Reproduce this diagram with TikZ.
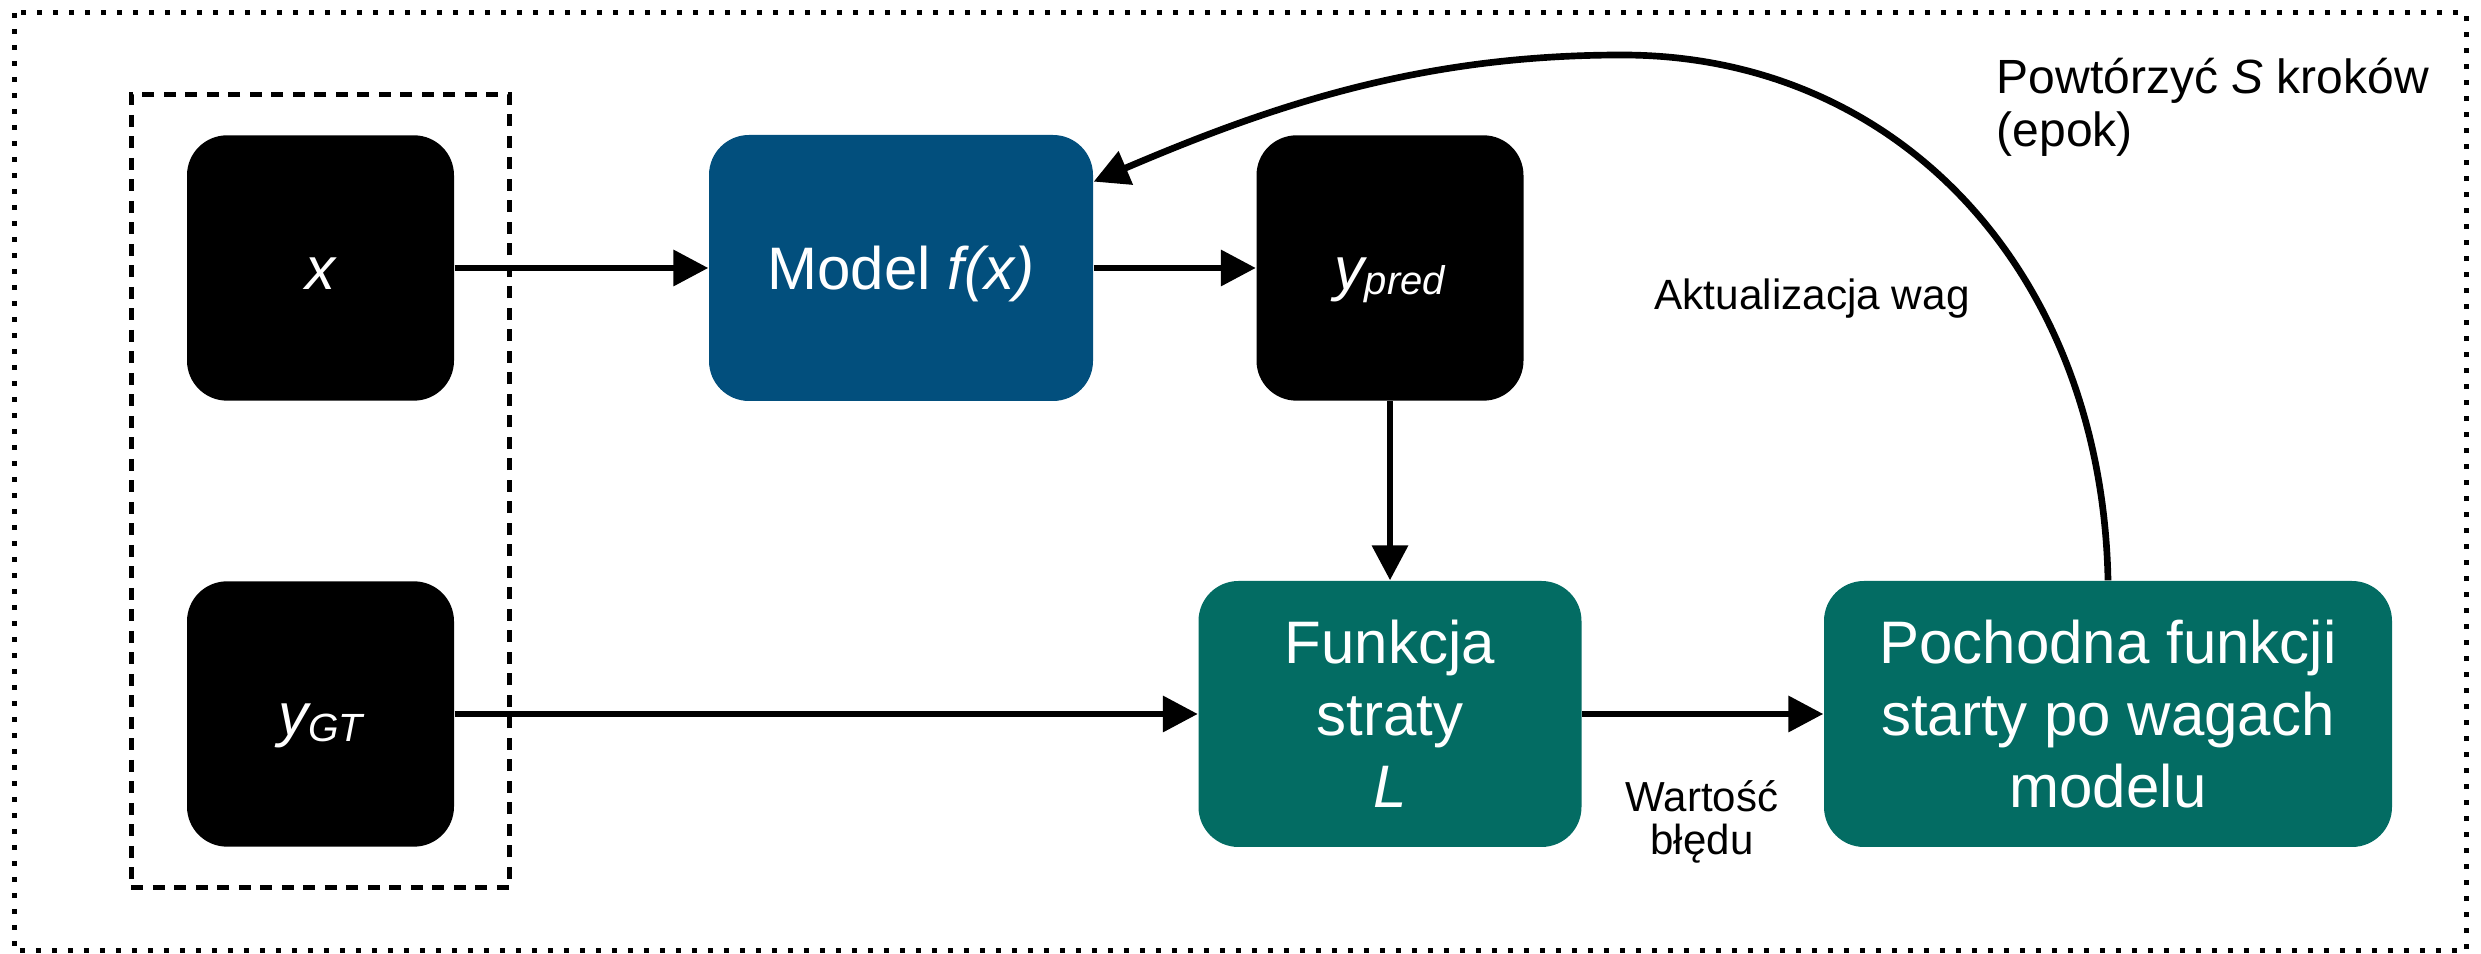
\documentclass[tikz,border=0pt]{standalone}
\usepackage{fontspec}
\setmainfont{Liberation Sans}
\usetikzlibrary{arrows.meta,calc,fit}
\definecolor{modelblue}{RGB}{2,79,125}
\definecolor{lossteal}{RGB}{3,108,99}
\begin{document}
\begin{tikzpicture}[x=0.3pt,y=-0.3pt,
  box/.style={rounded corners=12pt, inner sep=0pt, text=white,
    font=\fontsize{18pt}{21.6pt}\selectfont, align=center},
  oneline/.style={text height=13.2pt, text depth=0pt},
  threelines/.style={text height=56.4pt, text depth=0pt},
  databox/.style={box, fill=black, minimum width=80.1pt, minimum height=79.6pt},
  tealbox/.style={box, threelines, fill=lossteal, minimum height=79.8pt},
  label/.style={inner sep=0pt, text=black},
  arr/.style={line width=2pt, -{Triangle[length=10.5pt,width=10.5pt]}},
  groupdash/.style={draw, line width=1.5pt, dash pattern=on 3.6pt off 2.85pt},
  dotframe/.style={line width=1.5pt, dash pattern=on 1.5pt off 3.3pt},
]
\useasboundingbox (0,0) rectangle (2481,954);

% outer frame
\draw[dotframe] (14,13) rectangle (2466,951);

% inputs and prediction
\node[databox, oneline] (xin) at (320.5,268) {\itshape x};
\node[databox, oneline] (ygt) at (320.5,714)
  {\itshape y\raisebox{-1.7pt}{\fontsize{11.8pt}{12pt}\selectfont GT}};
\node[box, oneline, fill=modelblue, minimum width=115.2pt, minimum height=79.8pt]
  (model) at (901,268) {Model \textit{f(x)}};
\node[databox, oneline] (ypred) at (1390,268)
  {\itshape y\raisebox{-1.5pt}{\fontsize{12pt}{12pt}\selectfont pred}};

% loss and gradient
\node[tealbox, minimum width=114.9pt] (loss) at (1390,714)
  {Funkcja\\straty\\\textit{L}};
\node[tealbox, minimum width=170.4pt] (grad) at (2108,714)
  {Pochodna funkcji\\starty po wagach\\modelu};

% dataset group
\node[groupdash, fit=(xin)(ygt), inner xsep=16.5pt, inner ysep=12pt] (inputs) {};

% data flow
\draw[arr] (xin.east) -- (model.west);
\draw[arr] (model.east) -- (ypred.west);
\draw[arr] (ypred.south) -- (loss.north);
\draw[arr] (ygt.east) -- (loss.west);
\draw[arr] (loss.east) -- (grad.west);

% weight update loop
\coordinate (modelin) at ($(model.north east)!0.177!(model.south east)$);
\draw[arr] (grad.north) .. controls (2102,276) and (1902,55) .. (1622,55)
  .. controls (1422,55) and (1274,104.6) .. (modelin);

% annotations (multi-line labels sit on their last baseline)
\node[label, anchor=base, font=\fontsize{12.7pt}{15pt}\selectfont]
  (update) at (1812,310) {Aktualizacja wag};
\node[label, anchor=base west, align=left, font=\fontsize{14.4pt}{15.75pt}\selectfont]
  (repeat) at (1996,146.5) {Powtórzyć \textit{S} kroków\\(epok)};
\node[label, anchor=base, align=center, font=\fontsize{12.6pt}{12.9pt}\selectfont]
  (errval) at (1702,855) {Wartość\\błędu};
\end{tikzpicture}
\end{document}
